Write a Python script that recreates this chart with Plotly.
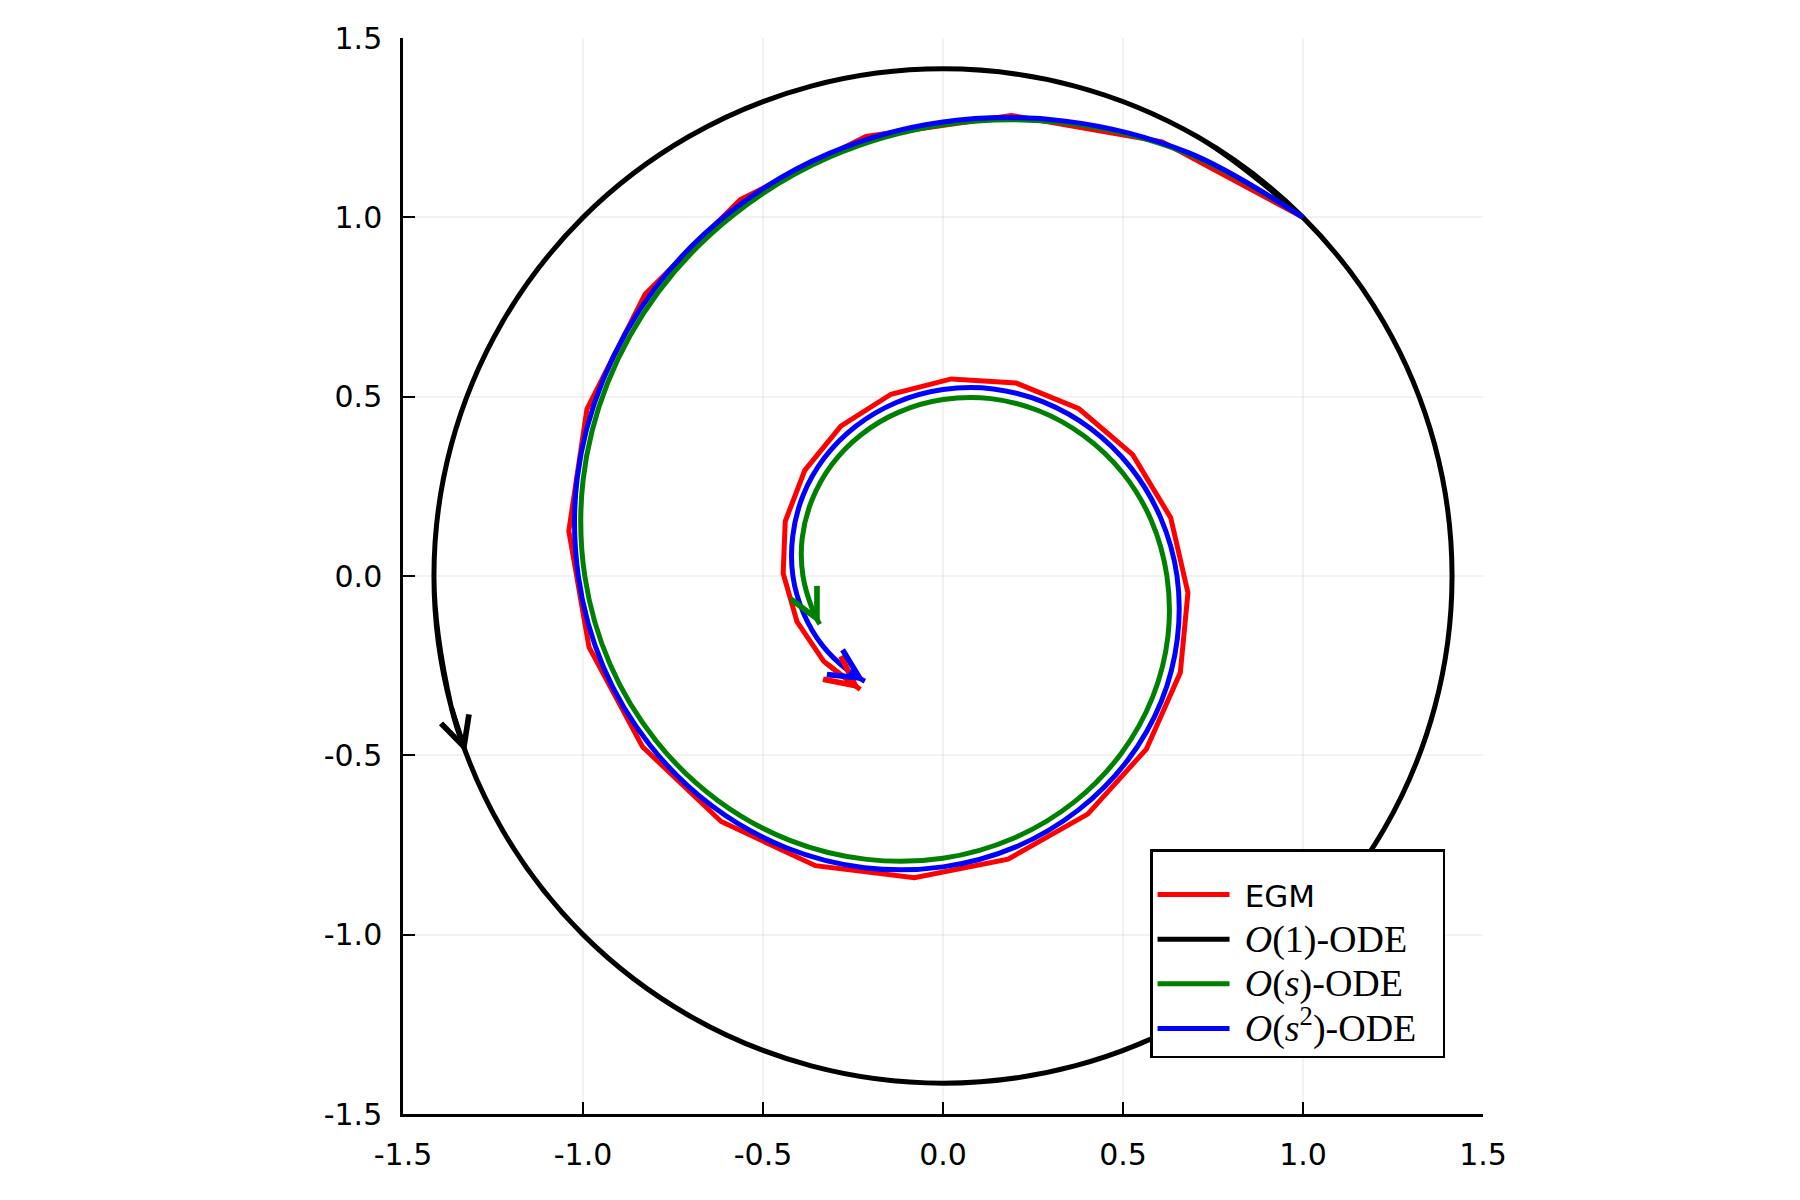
import numpy as np
import plotly.graph_objects as go

# ---- data (polar form: angle in degrees, radius) ----
egm_angle = [45.0, 63.3, 81.6, 99.9, 118.2, 136.5, 154.8, 173.1, 191.4, 209.7, 228.0,
             246.3, 264.6, 282.9, 301.2, 319.5, 337.8, 356.1, 374.4, 392.7, 411.0,
             429.3, 447.6, 465.9, 484.2, 502.5, 520.8, 539.1, 557.4, 575.7, 594.0]
egm_radius = [1.414, 1.355, 1.298, 1.244, 1.191, 1.141, 1.093, 1.047, 1.003, 0.961, 0.921,
              0.882, 0.845, 0.810, 0.776, 0.743, 0.712, 0.682, 0.653, 0.626, 0.600,
              0.575, 0.550, 0.527, 0.505, 0.484, 0.464, 0.444, 0.425, 0.408, 0.391]

o1_angle = [45, 60, 75, 90, 105, 120, 135, 150, 165, 180, 195, 210, 225, 240, 255, 270,
            285, 300, 315, 330, 345, 360, 375, 390, 405, 420, 435, 450, 465, 480, 495,
            510, 525, 540, 555, 560.4]
o1_radius = [1.414] * 36

os_angle = [45, 60, 75, 90, 105, 120, 135, 150, 165, 180, 195, 210, 225, 240, 255, 270,
            285, 300, 315, 330, 345, 360, 375, 390, 405, 420, 435, 450, 465, 480, 495,
            510, 525, 540, 555, 561.5]
os_radius = [1.414, 1.360, 1.308, 1.258, 1.210, 1.163, 1.119, 1.076, 1.035, 0.995, 0.957,
             0.920, 0.885, 0.851, 0.818, 0.787, 0.757, 0.728, 0.700, 0.673, 0.647, 0.622,
             0.599, 0.576, 0.553, 0.532, 0.512, 0.492, 0.473, 0.455, 0.438, 0.421, 0.405,
             0.389, 0.374, 0.368]

os2_angle = [45, 60, 75, 90, 105, 120, 135, 150, 165, 180, 195, 210, 225, 240, 255, 270,
             285, 300, 315, 330, 345, 360, 375, 390, 405, 420, 435, 450, 465, 480, 495,
             510, 525, 540, 555, 570, 585, 593.5]
os2_radius = [1.414, 1.363, 1.313, 1.266, 1.220, 1.175, 1.133, 1.091, 1.052, 1.013, 0.977,
              0.941, 0.907, 0.874, 0.842, 0.811, 0.782, 0.753, 0.726, 0.700, 0.674, 0.650,
              0.626, 0.603, 0.581, 0.560, 0.540, 0.520, 0.501, 0.483, 0.466, 0.449, 0.432,
              0.417, 0.401, 0.387, 0.373, 0.365]

tick_vals = [-1.5, -1.0, -0.5, 0.0, 0.5, 1.0, 1.5]
tick_text = ["-1.5", "-1.0", "-0.5", "0.0", "0.5", "1.0", "1.5"]

SERIF = "'Liberation Serif', 'DejaVu Serif', serif"
NB = "\u00a0"


def math_label(inner):
    return f"{NB}<span style=\"font-family:{SERIF}; font-size:38px\">{inner}</span>{NB}{NB}"


series = [
    (f"{NB}<span style=\"font-size:31px\">EGM</span>", egm_angle, egm_radius, "#ff0000", "linear"),
    (math_label("<i>O</i>(1)-ODE"), o1_angle, o1_radius, "#000000", "spline"),
    (math_label("<i>O</i>(<i>s</i>)-ODE"), os_angle, os_radius, "#008000", "spline"),
    (math_label("<i>O</i>(<i>s</i><sup>2</sup>)-ODE"), os2_angle, os2_radius, "#0000ff", "spline"),
]


def to_xy(angle_deg, radius):
    a = np.deg2rad(np.asarray(angle_deg, dtype=float))
    r = np.asarray(radius, dtype=float)
    return r * np.cos(a), r * np.sin(a)


fig = go.Figure()
annotations = []
for name, ang, rad, color, shape in series:
    x, y = to_xy(ang, rad)
    fig.add_trace(go.Scatter(
        x=x, y=y, mode="lines", name=name,
        line=dict(color=color, width=5, shape=shape, smoothing=1.0),
        hoverinfo="skip",
    ))
    annotations.append(dict(
        x=x[-1], y=y[-1], ax=x[-2], ay=y[-2],
        xref="x", yref="y", axref="x", ayref="y",
        text="", showarrow=True, arrowhead=5, arrowsize=1.15,
        arrowwidth=5, arrowcolor=color, standoff=0, startstandoff=0,
    ))

axis_common = dict(
    range=[-1.5, 1.5], tickvals=tick_vals, ticktext=tick_text,
    showline=True, linecolor="black", linewidth=2.5,
    ticks="inside", ticklen=12, tickwidth=2, tickcolor="black",
    showgrid=True, gridcolor="rgba(0,0,0,0.05)", gridwidth=1.5,
    zeroline=False, mirror=False,
    tickfont=dict(family="DejaVu Sans", size=30, color="black"),
    ticklabelstandoff=12,
)

fig.update_layout(
    width=1800, height=1200,
    paper_bgcolor="white", plot_bgcolor="white",
    margin=dict(l=395, r=325, t=27, b=94),
    xaxis=dict(**axis_common),
    yaxis=dict(**axis_common),
    showlegend=True,
    legend=dict(
        x=0.6917, y=0.149, xanchor="left", yanchor="middle",
        bgcolor="white", bordercolor="black", borderwidth=2.5,
        font=dict(family="DejaVu Sans", size=32, color="black"),
        title=dict(text=NB, font=dict(size=12)),
        itemwidth=72, tracegroupgap=0,
    ),
    annotations=annotations,
)

fig.write_html("out.html")
